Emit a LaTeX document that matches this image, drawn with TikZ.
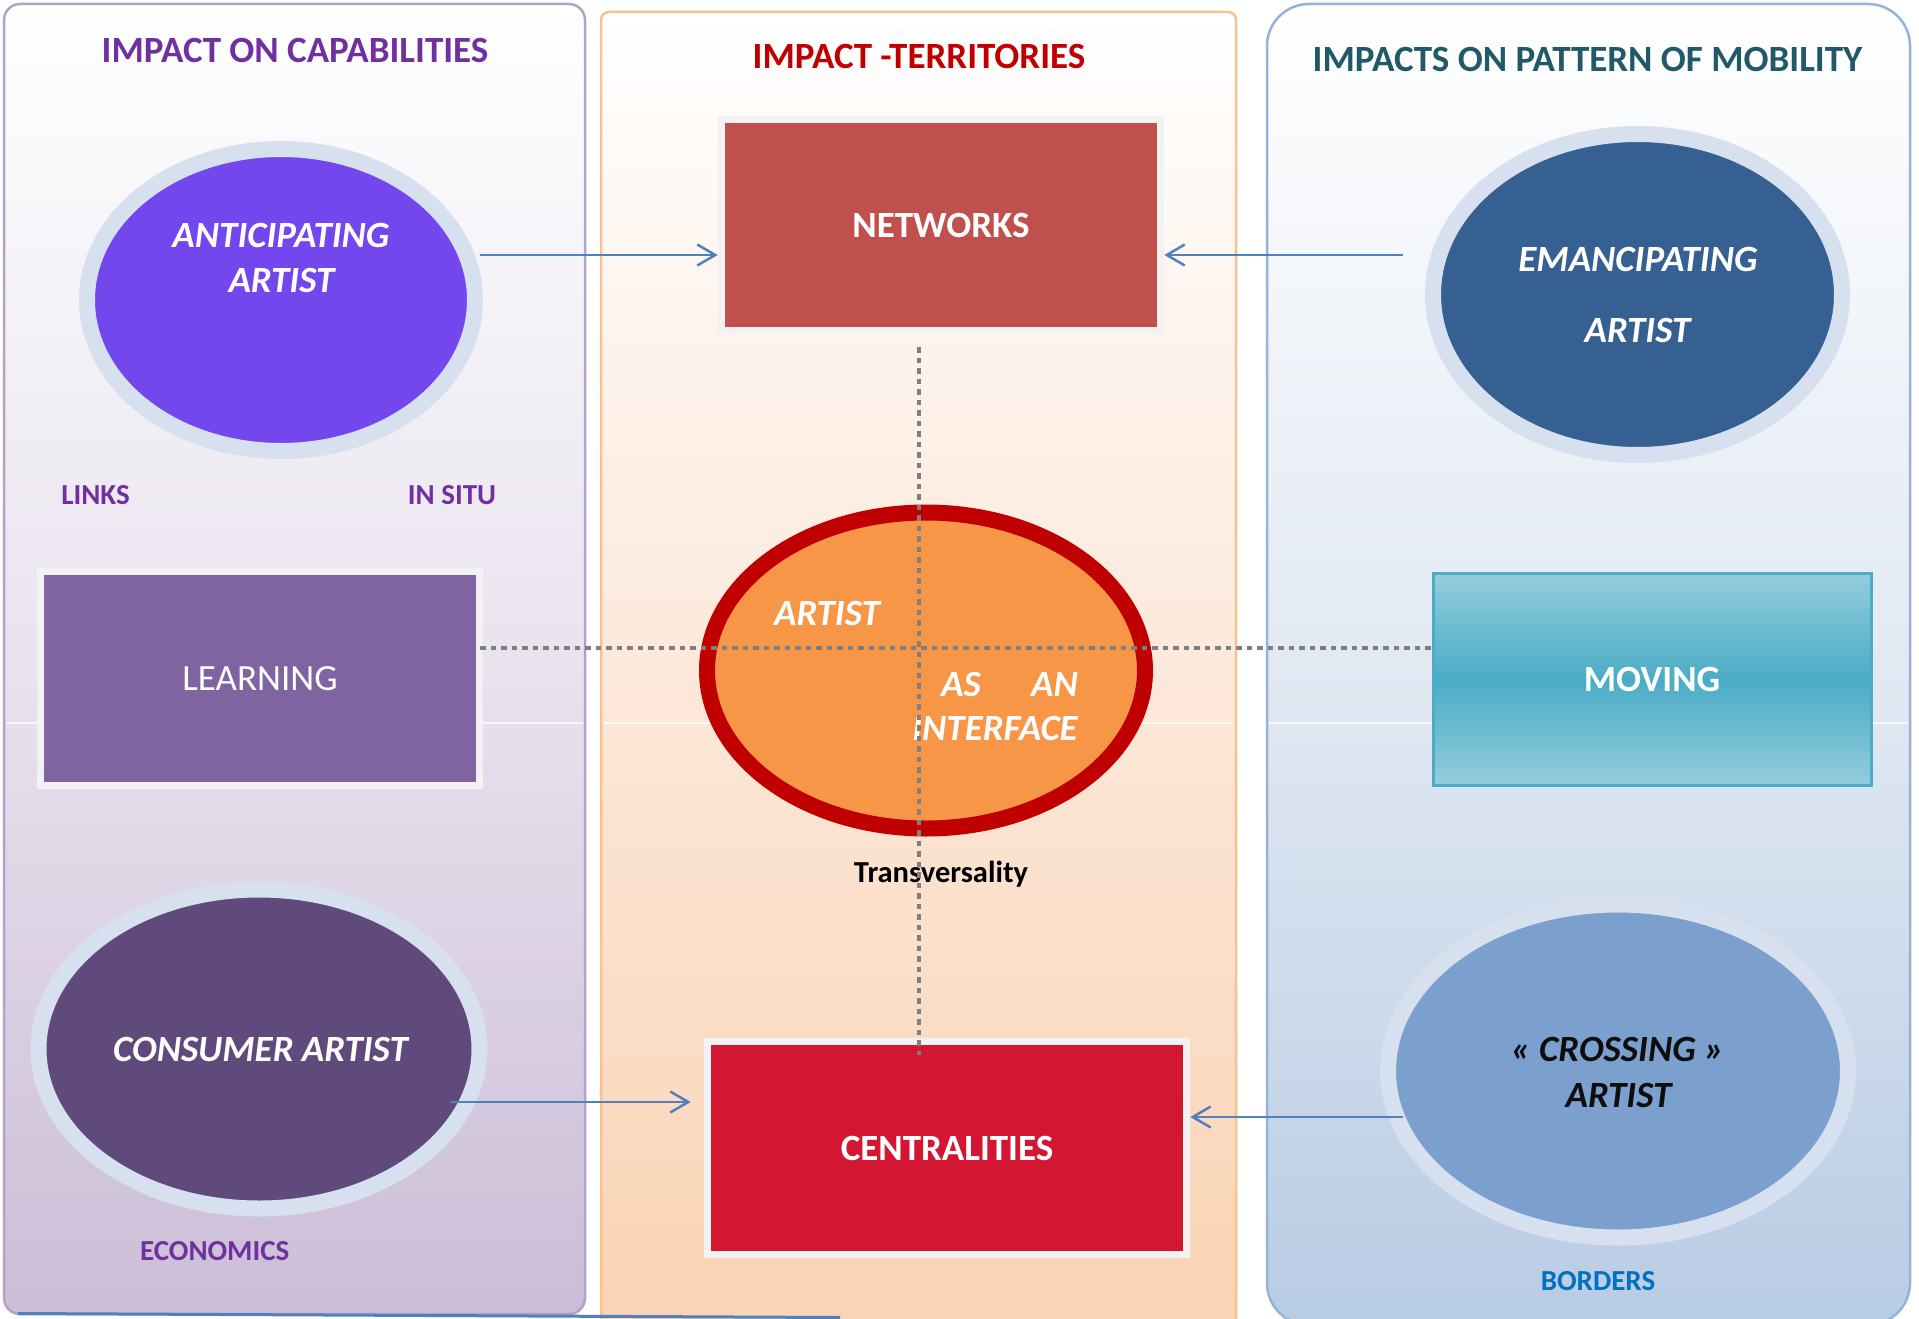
\documentclass[tikz,border=0pt]{standalone}
\usepackage{fontspec}
\setmainfont{Carlito}
\usetikzlibrary{shapes.geometric,arrows.meta}
\definecolor{lpedge}{HTML}{B3A2C7}
\definecolor{lpmid}{HTML}{E9E3EE}
\definecolor{lpbot}{HTML}{CBBDD7}
\definecolor{mpedge}{HTML}{FAC08F}
\definecolor{mpmid}{HTML}{FCE8DA}
\definecolor{mpbot}{HTML}{FAD3B3}
\definecolor{rpedge}{HTML}{95B3D7}
\definecolor{rpmid}{HTML}{E2E9F3}
\definecolor{rpbot}{HTML}{B8CCE4}
\definecolor{ringc}{HTML}{D6E0EF}
\definecolor{antc}{HTML}{7446EE}
\definecolor{emac}{HTML}{376092}
\definecolor{consc}{HTML}{604A7B}
\definecolor{crossfill}{HTML}{7BA0CD}
\definecolor{crossc}{HTML}{0D0D0D}
\definecolor{cenfill}{HTML}{F79646}
\definecolor{cenring}{HTML}{C00000}
\definecolor{netc}{HTML}{C0504D}
\definecolor{learnc}{HTML}{8064A2}
\definecolor{centc}{HTML}{D31733}
\definecolor{boxgray}{HTML}{F2F2F2}
\definecolor{movl}{HTML}{93CDDD}
\definecolor{movd}{HTML}{4BACC6}
\definecolor{arrc}{HTML}{4F81BD}
\definecolor{dotc}{HTML}{7F7F7F}
\definecolor{t1c}{HTML}{7030A0}
\definecolor{t2c}{HTML}{C00000}
\definecolor{t3c}{HTML}{215968}
\definecolor{lblc}{HTML}{7030A0}
\definecolor{bordc}{HTML}{0070C0}
\tikzset{
  ellring/.style={ellipse, draw=ringc, line width=16pt, inner sep=0pt},
  graybox/.style={rectangle, draw=boxgray, line width=7.5pt, inner sep=0pt,
    text=white, font=\fontsize{37}{44}\selectfont\bfseries},
  titletext/.style={font=\fontsize{37}{44}\selectfont\bfseries, anchor=base, inner sep=0pt},
  bigit/.style={font=\fontsize{37}{44}\selectfont\bfseries\itshape, anchor=base, inner sep=0pt},
  smalllbl/.style={font=\fontsize{29}{34}\selectfont\bfseries, anchor=base, inner sep=0pt},
  transtext/.style={font=\fontsize{30.5}{36}\selectfont\bfseries, anchor=base, inner sep=0pt, text=black},
  arr/.style={draw=arrc, line width=2.5pt, -{Straight Barb[length=18pt,width=21pt,line width=2.5pt]}},
  dotl/.style={draw=dotc, line width=4.5pt, dash pattern=on 5.5pt off 5pt},
  seam/.style={draw=white, draw opacity=0.7, line width=1.5pt},
}
\begin{document}
\begin{tikzpicture}[x=1pt,y=-1pt]
\useasboundingbox (0,0) rectangle (1919,1319);
% panels
\shade[top color=white, bottom color=lpbot, middle color=lpmid, rounded corners=16pt] (4,4) rectangle (585,1314);
\draw[seam] (6,723) -- (583,723);
\draw[lpedge, line width=2.5pt, rounded corners=16pt] (4,4) rectangle (585,1314);
\shade[top color=white, bottom color=mpbot, middle color=mpmid, rounded corners=8pt] (601,12) rectangle (1236,1335);
\draw[seam] (603,723) -- (1234,723);
\draw[mpedge, line width=2.5pt, rounded corners=8pt] (601,12) rectangle (1236,1335);
\shade[top color=white, bottom color=rpbot, middle color=rpmid, rounded corners=42pt] (1267,4) rectangle (1910,1325);
\draw[seam] (1269,723) -- (1908,723);
\draw[rpedge, line width=2.5pt, rounded corners=42pt] (1267,4) rectangle (1910,1325);
\draw[arrc, line width=3pt] (18,1313.5) -- (840,1317.5);
% titles
\node[titletext, text=t1c] (t1) at (295,62.7) {IMPACT ON CAPABILITIES};
\node[titletext, text=t2c] (t2) at (919,69) {IMPACT -TERRITORIES};
\node[titletext, text=t3c] (t3) at (1587.5,71.7) {IMPACTS ON PATTERN OF MOBILITY};
% shapes
\node[ellring, fill=antc, minimum width=388pt, minimum height=302pt] (ant) at (281,300) {};
\node[ellring, fill=emac, minimum width=409pt, minimum height=321pt] (ema) at (1637.5,294.5) {};
\node[ellring, fill=consc, minimum width=441pt, minimum height=319pt] (cons) at (259,1049) {};
\node[ellring, fill=crossfill, minimum width=460pt, minimum height=333pt] (cross) at (1618,1071) {};
\node[ellipse, draw=cenring, fill=cenfill, line width=16pt, inner sep=0pt, minimum width=438pt, minimum height=316pt] (center) at (926,670.5) {};
\node[graybox, fill=netc, minimum width=439pt, minimum height=211pt] (networks) at (941,225) {NETWORKS};
\node[graybox, fill=learnc, minimum width=439pt, minimum height=214pt, font=\fontsize{37}{44}\selectfont] (learning) at (260,678.5) {LEARNING};
\node[graybox, fill=centc, minimum width=479pt, minimum height=213pt] (cent) at (947,1148) {CENTRALITIES};
\node[rectangle, draw=movd, line width=3pt, inner sep=0pt, top color=movl, bottom color=movl, middle color=movd,
  minimum width=438pt, minimum height=212pt, text=white, font=\fontsize{37}{44}\selectfont\bfseries] (moving) at (1652,679.5) {MOVING};
% texts
\node[bigit, text=white] (antl1) at (281,247) {ANTICIPATING};
\node[bigit, text=white] (antl2) at (281.5,292.7) {ARTIST};
\node[bigit, text=white] (emal1) at (1638,271.7) {EMANCIPATING};
\node[bigit, text=white] (emal2) at (1637.5,342.7) {ARTIST};
\node[smalllbl, text=lblc] (links) at (95.5,504) {LINKS};
\node[smalllbl, text=lblc] (insitu) at (452,504) {IN SITU};
\node[bigit, text=white] (c1) at (827,625.7) {ARTIST};
\node[bigit, text=white] (c2) at (961,696.7) {AS};
\node[bigit, text=white] (c3) at (1054.5,696.7) {AN};
\node[bigit, text=white] (c4) at (995,740) {INTERFACE};
\node[transtext] (transv) at (941,882) {Transversality};
\node[bigit, text=white] (consl) at (260.5,1061.7) {CONSUMER ARTIST};
\node[smalllbl, text=lblc] (econ) at (214.7,1260) {ECONOMICS};
\node[bigit, text=crossc] (cr1) at (1617.5,1061.7) {« CROSSING »};
\node[bigit, text=crossc] (cr2) at (1618.5,1107) {ARTIST};
\node[smalllbl, text=bordc] (bord) at (1598,1290) {BORDERS};
% connectors
\coordinate (a1s) at (479.6,255);
\coordinate (a2s) at (1402.6,255);
\coordinate (a3s) at (450,1102);
\coordinate (a4s) at (1402.6,1117);
\draw[arr] (a1s) -- (a1s -| networks.west);
\draw[arr] (a2s) -- (a2s -| networks.east);
\draw[arr] (a3s) -- ([xshift=-13pt]a3s -| cent.west);
\draw[arr] (a4s) -- (a4s -| cent.east);
\coordinate (vt) at (919,347);
\coordinate (vb) at (919,1055);
\coordinate (hl) at (480,648);
\draw[dotl] (vt) -- (vb);
\draw[dotl] (hl) -- (hl -| moving.west);
\end{tikzpicture}
\end{document}
